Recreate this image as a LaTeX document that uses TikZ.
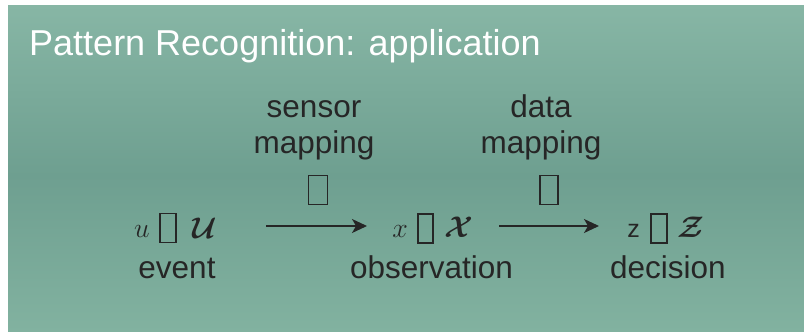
\documentclass[tikz,border=0pt]{standalone}
\usepackage{amsmath}
\usepackage{graphicx}
\usepackage{fontspec}
\setmainfont{Liberation Sans}
\usetikzlibrary{arrows.meta}
\definecolor{slidetop}{HTML}{87B6A5}
\definecolor{slidemid}{HTML}{6E9F90}
\definecolor{slidebot}{HTML}{82B2A0}
\definecolor{ink}{HTML}{262626}
% math glyphs are set at 24pt and scaled up
\newcommand{\bigmath}[2]{\scalebox{#1}{$#2$}}
\tikzset{
  lbl/.style={anchor=base, inner sep=0pt, text=ink, font=\fontsize{31.5}{36}\selectfont},
  var/.style={anchor=base, inner sep=0pt, text=ink, font=\fontsize{24}{28}\selectfont},
  tofu/.style={draw=ink, line width=1.4pt, inner sep=0pt, minimum width=#1, minimum height=29pt},
  maparrow/.style={draw=ink, line width=1.3pt, -{Stealth[length=15pt,width=14pt,inset=4pt]}},
}
\begin{document}
\begin{tikzpicture}[x=1pt,y=1pt]
\useasboundingbox (0,0) rectangle (804,-332);
\fill[white] (0,0) rectangle (804,-332);
% slide background: light at top and bottom, darker in the middle
\shade[top color=slidetop, bottom color=slidemid] (8,-5) rectangle (804,-176);
\shade[top color=slidemid, bottom color=slidebot] (8,-175) rectangle (804,-332);

% title
\node[anchor=base west, inner sep=0pt, text=white, font=\fontsize{36}{40}\selectfont]
  (title) at (29,-56) {Pattern Recognition: application};

% mapping labels
\node[lbl] (sensA) at (314,-117) {sensor};
\node[lbl] (sensB) at (314,-153) {mapping};
\node[tofu=19pt] (sensT) at (318,-190) {};
\node[lbl] (dataA) at (541,-117) {data};
\node[lbl] (dataB) at (541,-153) {mapping};
\node[tofu=18pt] (dataT) at (549,-190) {};

% event
\node[var] (u) at (142,-237) {\bigmath{1.12}{u}};
\node[tofu=16pt] (uT) at (168,-228) {};
\node[var] (U) at (205,-238) {\bigmath{1.2}{\boldsymbol{\mathcal{U}}}};
\node[lbl] (event) at (177,-278) {event};

% observation
\node[var] (x) at (400,-237) {\bigmath{1.12}{x}};
\node[tofu=15pt] (xT) at (425.5,-228.5) {};
\node[var] (X) at (458.5,-237) {\bigmath{1.2}{\boldsymbol{\mathcal{X}}}};
\node[lbl] (obs) at (431.5,-278) {observation};

% decision
\node[lbl, font=\fontsize{25}{30}\selectfont] (z) at (633.5,-237) {z};
\node[tofu=16pt] (zT) at (659,-228.5) {};
\node[var] (Z) at (690.5,-237) {\bigmath{1.2}{\boldsymbol{\mathcal{Z}}}};
\node[lbl] (dec) at (668,-278) {decision};

% arrows between the stages
\coordinate (a1s) at (266,-226);
\coordinate (a1e) at (367,-226);
\coordinate (a2s) at (499,-226);
\coordinate (a2e) at (599,-226);
\draw[maparrow] (a1s) -- (a1e);
\draw[maparrow] (a2s) -- (a2e);
\end{tikzpicture}
\end{document}
